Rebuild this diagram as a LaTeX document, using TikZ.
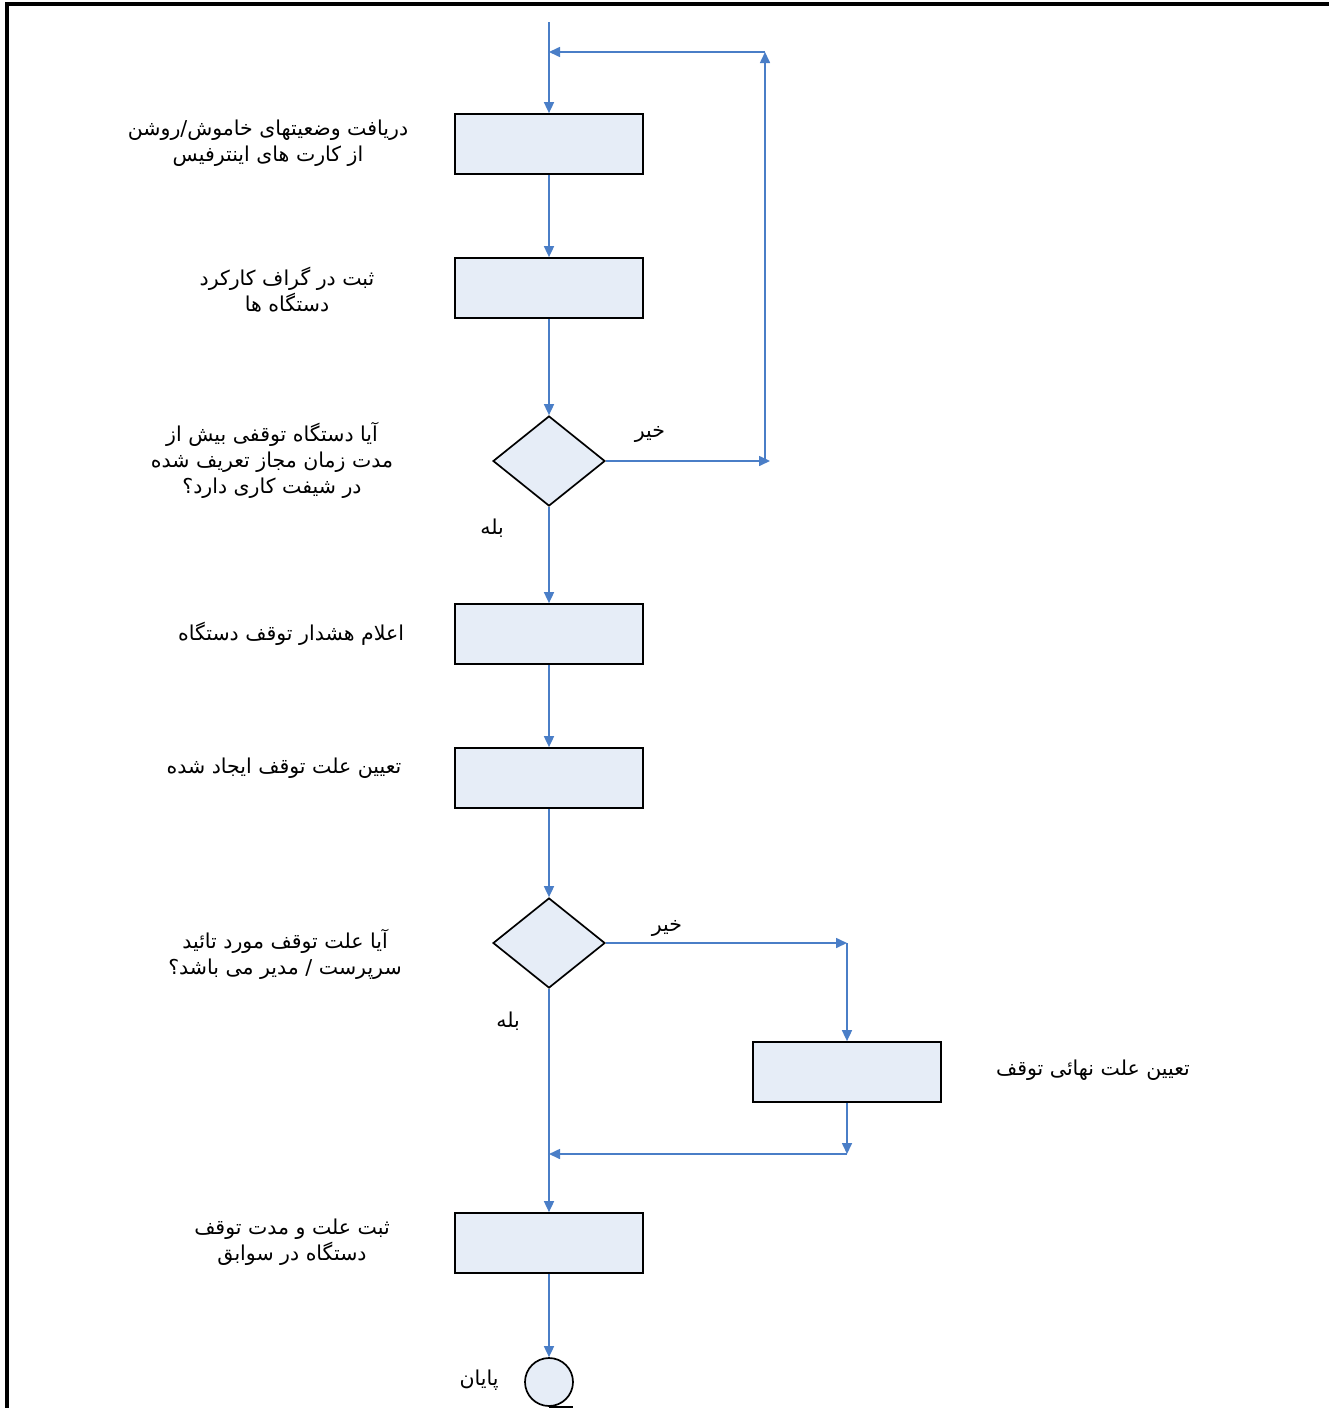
\documentclass[tikz,border=0pt]{standalone}
\usepackage{fontspec}
\usetikzlibrary{arrows.meta,shapes.geometric}
\TeXXeTstate=1
\newfontfamily\arabicfont[Script=Arabic]{DejaVu Sans}
\newcommand{\fa}[1]{\beginR #1\endR}
\definecolor{flowblue}{HTML}{4A7EC7}
\definecolor{boxfill}{HTML}{E6EDF7}
\tikzset{
  stepbox/.style={draw=black, line width=1.7pt, fill=boxfill, minimum width=188pt, minimum height=60pt, inner sep=0pt},
  decbox/.style={draw=black, line width=1.7pt, fill=boxfill, diamond, minimum width=112pt, minimum height=90pt, inner sep=0pt, aspect=1.25},
  endbox/.style={draw=black, line width=1.7pt, fill=boxfill, circle, minimum size=48pt, inner sep=0pt},
  lbl/.style={font=\arabicfont\fontsize{20.5}{26}\selectfont, align=center, inner sep=0pt},
  flow/.style={draw=flowblue, line width=1.6pt, -{Triangle[width=10pt,length=11pt]}},
  frame/.style={draw=black, line width=4pt}
}
\begin{document}
\begin{tikzpicture}[x=1pt,y=-1pt]
\useasboundingbox (0,0) rectangle (1329,1408);
% frame
\draw[frame] (7,1408) -- (7,4) -- (1329,4);
% nodes
\node[stepbox] (b1) at (549,144) {};
\node[stepbox] (b2) at (549,288) {};
\node[decbox] (d1) at (549,461) {};
\node[stepbox] (b3) at (549,634) {};
\node[stepbox] (b4) at (549,778) {};
\node[decbox] (d2) at (549,943) {};
\node[stepbox] (b5) at (847,1072) {};
\node[stepbox] (b6) at (549,1243) {};
\node[endbox] (e) at (549,1382) {};
\draw[black, line width=1.7pt] (e.south) -- ++(24,0);
% coordinates
\coordinate (s) at (549,22);
\coordinate (l1) at (770,461);
\coordinate (l2) at (765,461);
\coordinate (l3) at (765,52);
\coordinate (l4) at (549,52);
\coordinate (r1) at (847,943);
\coordinate (r2) at (847,1154);
\coordinate (r3) at (549,1154);
% connectors
\draw[flow] (s) -- (b1.north);
\draw[flow] (b1) -- (b2);
\draw[flow] (b2) -- (d1.north);
\draw[flow] (d1.east) -- (l1);
\draw[flow] (l2) -- (l3);
\draw[flow] (l3) -- (l4);
\draw[flow] (d1.south) -- (b3.north);
\draw[flow] (b3) -- (b4);
\draw[flow] (b4) -- (d2.north);
\draw[flow] (d2.east) -- (r1);
\draw[flow] (r1) -- (b5.north);
\draw[flow] (b5.south) -- (r2);
\draw[flow] (r2) -- (r3);
\draw[flow] (d2.south) -- (b6.north);
\draw[flow] (b6) -- (e);
% labels
\node[lbl] (t1) at (268,143) {\fa{دریافت وضعیتهای خاموش/روشن}\\\fa{از کارت های اینترفیس}};
\node[lbl] (t2) at (287,290) {\fa{ثبت در گراف کارکرد}\\\fa{دستگاه ها}};
\node[lbl] (t3) at (272,460) {\fa{آیا دستگاه توقفی بیش از}\\\fa{مدت زمان مجاز تعریف شده}\\\fa{در شیفت کاری دارد؟}};
\node[lbl] (t4) at (291,634) {\fa{اعلام هشدار توقف دستگاه}};
\node[lbl] (t5) at (284,768) {\fa{تعیین علت توقف ایجاد شده}};
\node[lbl] (t6) at (285,954) {\fa{آیا علت توقف مورد تائید}\\\fa{سرپرست / مدیر می باشد؟}};
\node[lbl] (t7) at (1093,1070) {\fa{تعیین علت نهائی توقف}};
\node[lbl] (t8) at (292,1242) {\fa{ثبت علت و مدت توقف}\\\fa{دستگاه در سوابق}};
\node[lbl] (n1) at (650,434) {\fa{خیر}};
\node[lbl] (y1) at (492,528) {\fa{بله}};
\node[lbl] (n2) at (667,928) {\fa{خیر}};
\node[lbl] (y2) at (508,1021) {\fa{بله}};
\node[lbl] (p) at (479,1380) {\fa{پایان}};
\end{tikzpicture}
\end{document}
